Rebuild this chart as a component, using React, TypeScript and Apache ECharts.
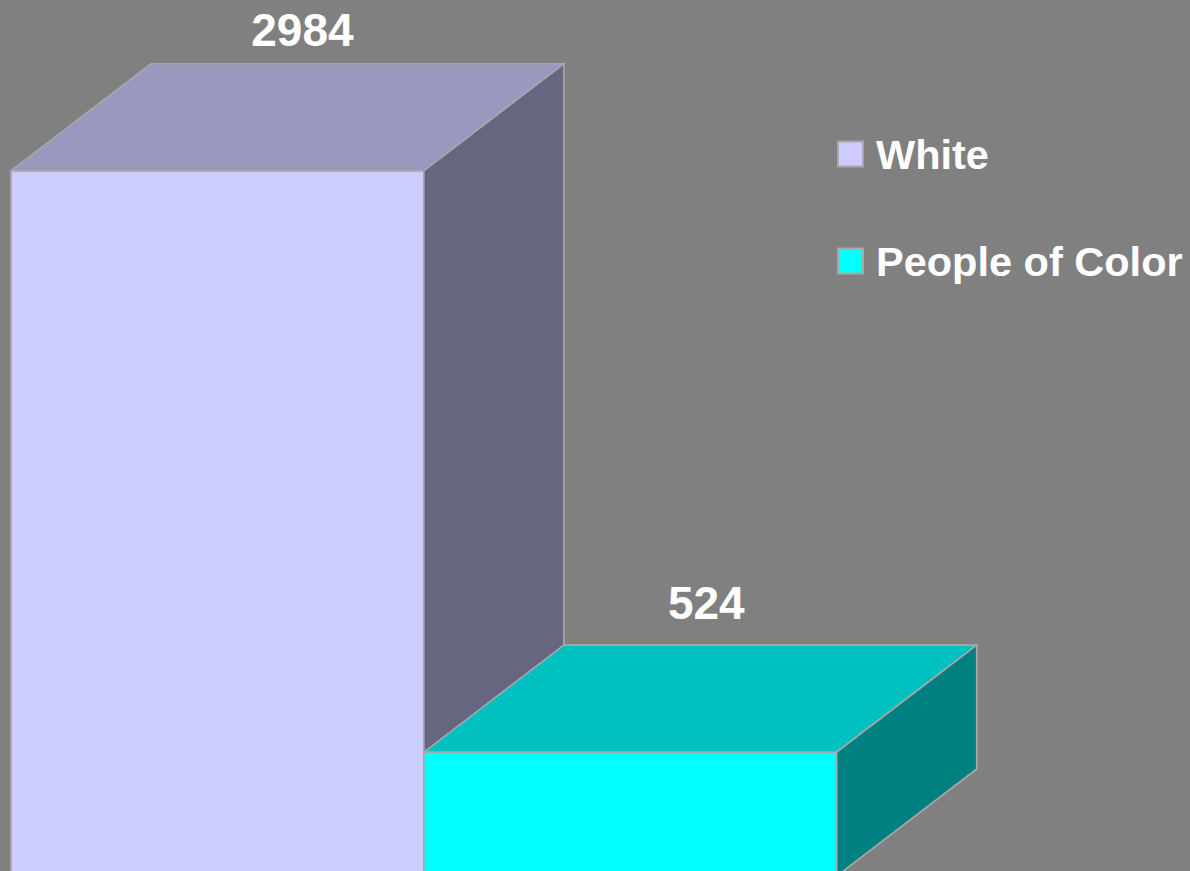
import React, { useEffect, useRef } from "react";
import * as echarts from "echarts";

const categories = ["White", "People of Color"];
const values = [2984, 524];
const yMin = 0;
const yMax = 3000;

const FONT = "'Liberation Sans', Arial, Helvetica, sans-serif";
const DX = 140;
const DY = 107;
const EDGE = "#a8a8a8";

const barStyles = [
  { front: "#ccccff", top: "#9999c0", side: "#666680", labelDx: 15, labelDy: -87 },
  { front: "#00ffff", top: "#00c0c0", side: "#008080", labelDx: 6, labelDy: -96 },
];

export default function App() {
  const ref = useRef<HTMLDivElement>(null);

  useEffect(() => {
    if (!ref.current) return;
    const chart = echarts.init(ref.current, undefined, { renderer: "svg" });

    const series = categories.map((name, i) => {
      const st = barStyles[i];
      return {
        type: "custom",
        name,
        coordinateSystem: "cartesian2d",
        itemStyle: { color: st.front, borderColor: EDGE, borderWidth: 1.5 },
        data: [[i, values[i]]],
        encode: { x: 0, y: 1 },
        renderItem: (params: any, api: any) => {
          const idx = api.value(0);
          const v = api.value(1);
          const topPt = api.coord([idx, v]);
          const basePt = api.coord([idx, 0]);
          const bw = api.size([1, 0])[0];
          const x0 = topPt[0] - bw / 2;
          const x1 = topPt[0] + bw / 2;
          const yT = topPt[1];
          const yB = basePt[1];
          const lineStyle = { stroke: EDGE, lineWidth: 1.6 };
          const cx = (x0 + x1 + DX) / 2;
          const cy = yT - DY / 2;
          return {
            type: "group",
            children: [
              {
                type: "polygon",
                shape: { points: [[x0, yT], [x1, yT], [x1, yB], [x0, yB]] },
                style: { fill: st.front, ...lineStyle },
              },
              {
                type: "polygon",
                shape: { points: [[x0, yT], [x1, yT], [x1 + DX, yT - DY], [x0 + DX, yT - DY]] },
                style: { fill: st.top, ...lineStyle },
              },
              {
                type: "polygon",
                shape: { points: [[x1, yT], [x1 + DX, yT - DY], [x1 + DX, yB - DY], [x1, yB]] },
                style: { fill: st.side, ...lineStyle },
              },
              {
                type: "text",
                x: cx + st.labelDx,
                y: cy + st.labelDy,
                style: {
                  text: String(values[i]),
                  fill: "#ffffff",
                  font: `bold 46px ${FONT}`,
                  align: "center",
                  verticalAlign: "middle",
                },
              },
            ],
          };
        },
      };
    });

    chart.setOption({
      animation: false,
      backgroundColor: "#808080",
      grid: { left: 11, right: 1190 - 836.7, top: 167, bottom: 4, containLabel: false },
      xAxis: {
        type: "category",
        data: categories,
        boundaryGap: true,
        show: false,
      },
      yAxis: { type: "value", min: yMin, max: yMax, show: false },
      legend: {
        orient: "vertical",
        left: 837,
        top: 133,
        padding: 0,
        itemWidth: 25,
        itemHeight: 25,
        itemGap: 65,
        icon: "rect",
        selectedMode: false,
        data: categories,
        textStyle: {
          color: "#ffffff",
          fontWeight: "bold",
          fontSize: 41.5,
          fontFamily: FONT,
          padding: [0, 0, 0, 8],
        },
      },
      series,
    } as any);

    return () => chart.dispose();
  }, []);

  return (
    <div
      style={{
        position: "fixed",
        left: 0,
        top: 0,
        width: 1190,
        height: 871,
        overflow: "hidden",
        background: "#808080",
      }}
    >
      <div ref={ref} style={{ position: "absolute", left: 0, top: 0, width: 1190, height: 880 }} />
    </div>
  );
}
